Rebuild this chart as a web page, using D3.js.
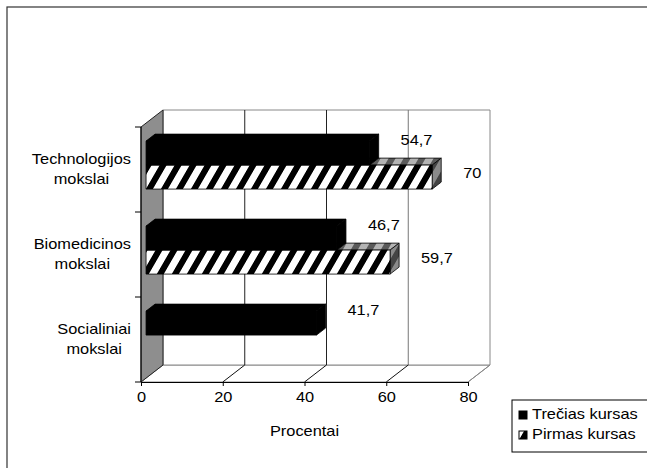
<!DOCTYPE html>
<html>
<head>
<meta charset="utf-8">
<script src="https://cdn.jsdelivr.net/npm/d3@7"></script>
<style>
  body { margin: 0; background: #fff; }
  text { font-family: "Liberation Sans", Arial, sans-serif; font-size: 14px; fill: #000; }
</style>
</head>
<body>
<div id="chart"></div>
<script>
// data
const categories = ['Technologijos mokslai', 'Biomedicinos mokslai', 'Socialiniai mokslai'];
const categoryLines = [['Technologijos', 'mokslai'], ['Biomedicinos', 'mokslai'], ['Socialiniai', 'mokslai']];
const seriesNames = ['Trečias kursas', 'Pirmas kursas'];
const treciasKursas = [54.7, 46.7, 41.7];
const pirmasKursas = [70, 59.7, null];
const xTicks = [0, 20, 40, 60, 80];
const axisTitle = 'Procentai';

const W = 647, H = 468;
const STRETCH = 1.17; // text in the picture is a bit wide
const DX = 22, DY = -17; // depth of the 3d box
const d0 = 0.23, d1 = 0.64; // depth taken by the bars

const svg = d3.select('#chart').append('svg')
    .attr('width', W).attr('height', H);

const x = d3.scaleLinear().domain([0, 80]).range([141, 468]);
const y = d3.scaleBand().domain(categories).range([127, 382]);
const ySeries = d3.scaleBand().domain(seriesNames).range([18, 66]);

const P = (v, yy, d) => [x(v) + d * DX, yy + d * DY];
const poly = pts => pts.map(p => p.join(',')).join(' ');

// patterns
const defs = svg.append('defs');
function hatch(id, bg, fg) {
    const p = defs.append('pattern').attr('id', id)
        .attr('patternUnits', 'userSpaceOnUse')
        .attr('width', 15).attr('height', 30)
        .attr('patternTransform', 'skewX(-30)');
    p.append('rect').attr('width', 15).attr('height', 30).attr('fill', bg);
    p.append('rect').attr('width', 7).attr('height', 30).attr('fill', fg);
}
hatch('hFront', '#fff', '#000');
hatch('hTop', '#b4b4b4', '#5a5a5a');
hatch('hSide', '#8a8a8a', '#444');

function stretchedText(g, tx, ty, str, anchor) {
    return g.append('g').attr('transform', `translate(${tx},${ty}) scale(${STRETCH},1)`)
        .append('text').attr('text-anchor', anchor || 'start').text(str);
}

// outer frame
svg.append('rect').attr('x', 7).attr('y', 7).attr('width', 700).attr('height', 500)
    .attr('fill', 'none').attr('stroke', '#333').attr('stroke-width', 1.2);

const yTop = y.range()[0], yBot = y.range()[1];

// floor
svg.append('polygon')
    .attr('points', poly([P(0, yBot, 0), P(80, yBot, 0), P(80, yBot, 1), P(0, yBot, 1)]))
    .attr('fill', '#fff').attr('stroke', '#888');

// back wall
svg.append('polygon')
    .attr('points', poly([P(0, yTop, 1), P(80, yTop, 1), P(80, yBot, 1), P(0, yBot, 1)]))
    .attr('fill', '#fff').attr('stroke', '#888');

// gridlines on back wall and floor
xTicks.forEach(t => {
    const a = P(t, yTop, 1), b = P(t, yBot, 1), c = P(t, yBot, 0);
    if (t > 0 && t < 80) {
        svg.append('line').attr('x1', a[0]).attr('y1', a[1]).attr('x2', b[0]).attr('y2', b[1])
            .attr('stroke', t < 60 ? '#222' : '#777');
    }
    if (t > 0) {
        svg.append('line').attr('x1', b[0]).attr('y1', b[1]).attr('x2', c[0]).attr('y2', c[1])
            .attr('stroke', t < 80 ? '#111' : '#888');
    }
});

// side wall
svg.append('polygon')
    .attr('points', poly([P(0, yTop, 0), P(0, yTop, 1), P(0, yBot, 1), P(0, yBot, 0)]))
    .attr('fill', '#8e8e8e').attr('stroke', '#222');

// bars
function bar(v, y1, h, series) {
    if (v == null) return;
    const y2 = y1 + h;
    const g = svg.append('g');
    const hatched = series === seriesNames[1];
    g.append('polygon')
        .attr('points', poly([P(0, y1, d0), P(v, y1, d0), P(v, y1, d1), P(0, y1, d1)]))
        .attr('fill', hatched ? 'url(#hTop)' : '#000').attr('stroke', '#000').attr('stroke-width', 0.8);
    g.append('polygon')
        .attr('points', poly([P(v, y1, d0), P(v, y1, d1), P(v, y2, d1), P(v, y2, d0)]))
        .attr('fill', hatched ? 'url(#hSide)' : '#000').attr('stroke', '#000').attr('stroke-width', 0.8);
    g.append('polygon')
        .attr('points', poly([P(0, y1, d0), P(v, y1, d0), P(v, y2, d0), P(0, y2, d0)]))
        .attr('fill', hatched ? 'url(#hFront)' : '#000').attr('stroke', '#000').attr('stroke-width', 0.8);
}

categories.forEach((c, i) => {
    // hatched bar first, black bar sits in front of its top face
    bar(pirmasKursas[i], y(c) + ySeries(seriesNames[1]), ySeries.bandwidth(), seriesNames[1]);
    bar(treciasKursas[i], y(c) + ySeries(seriesNames[0]), ySeries.bandwidth(), seriesNames[0]);
});

// value labels
const fmt = v => String(v).replace('.', ',');
categories.forEach((c, i) => {
    [[treciasKursas[i], seriesNames[0], -8], [pirmasKursas[i], seriesNames[1], 1]].forEach(([v, s, off]) => {
        if (v == null) return;
        const cy = y(c) + ySeries(s) + ySeries.bandwidth() / 2 + d0 * DY;
        stretchedText(svg, x(v) + DX + 14, cy + off, fmt(v));
    });
});

// value axis (front edge of floor)
const xAxis = svg.append('g').attr('transform', `translate(0,${yBot})`)
    .call(d3.axisBottom(x).tickValues(xTicks).tickSize(4).tickPadding(6).tickFormat(d3.format('d')));
xAxis.select('.domain').attr('stroke', '#000');
xAxis.selectAll('text')
    .attr('font-family', '"Liberation Sans", Arial, sans-serif')
    .attr('font-size', 14)
    .attr('transform', `scale(${STRETCH},1)`);

// category axis line + ticks at band edges
svg.append('line').attr('x1', x(0)).attr('y1', yTop).attr('x2', x(0)).attr('y2', yBot).attr('stroke', '#000');
categories.concat([null]).forEach((c, i) => {
    const yy = c ? y(c) : yBot;
    svg.append('line').attr('x1', x(0) - 6).attr('x2', x(0)).attr('y1', yy).attr('y2', yy).attr('stroke', '#000');
});

// category labels: lines centred in a block that is right aligned
categories.forEach((c, i) => {
    const lines = categoryLines[i];
    const cy = y(c) + y.bandwidth() / 2;
    const tmp = lines.map(l => stretchedText(svg, 0, 0, l));
    const widths = tmp.map(t => t.node().getComputedTextLength() * STRETCH);
    tmp.forEach(t => t.node().parentNode.remove());
    const maxW = d3.max(widths);
    const cx = 131 - maxW / 2;
    lines.forEach((l, j) => {
        stretchedText(svg, cx, cy - 6 + j * 20, l, 'middle');
    });
});

// axis title
stretchedText(svg, (x(0) + x(80)) / 2, 436, axisTitle, 'middle');

// legend
const lg = svg.append('g').attr('transform', 'translate(512,400)');
lg.append('rect').attr('width', 140).attr('height', 52).attr('fill', '#fff').attr('stroke', '#000');
seriesNames.forEach((s, i) => {
    const yy = 11 + i * 20;
    lg.append('rect').attr('x', 7).attr('y', yy).attr('width', 8).attr('height', 8)
        .attr('fill', i === 0 ? '#000' : 'url(#hFront)').attr('stroke', '#000');
    stretchedText(lg, 20, yy + 8, s);
});
</script>
</body>
</html>
